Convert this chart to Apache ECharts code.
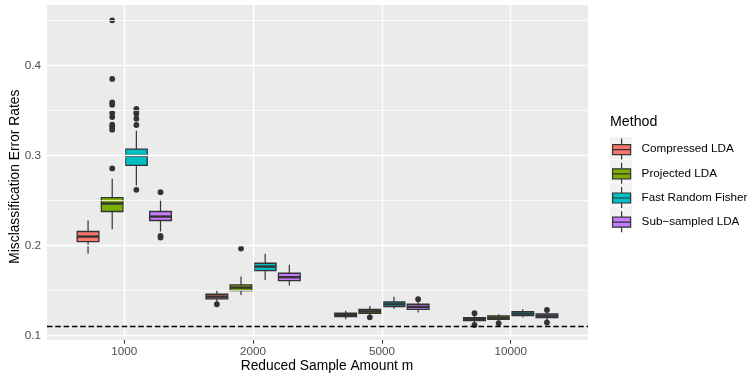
<!DOCTYPE html>
<html>
<head>
<meta charset="utf-8">
<script src="https://cdn.jsdelivr.net/npm/echarts@6/dist/echarts.min.js"></script>
<style>html,body{margin:0;padding:0;background:#fff;}#c{width:748px;height:377px;}</style>
</head>
<body>
<div id="c"></div>
<script>
// ---- data ----
const categories = ['1000', '2000', '5000', '10000'];
const methods = ['Compressed LDA', 'Projected LDA', 'Fast Random Fisher', 'Sub\u2212sampled LDA'];
// [lower whisker, Q1, median, Q3, upper whisker] per category
const compressedStats = [[0.1908,0.2044,0.2100,0.2156,0.2278],[0.1378,0.1408,0.1433,0.1460,0.1508],[0.1182,0.1211,0.1230,0.1249,0.1278],[0.1150,0.1167,0.1183,0.1200,0.1219]];
const projectedStats  = [[0.2182,0.2378,0.2467,0.2533,0.2741],[0.1452,0.1500,0.1533,0.1563,0.1656],[0.1227,0.1249,0.1270,0.1293,0.1330],[0.1167,0.1182,0.1200,0.1219,0.1238]];
const fisherStats     = [[0.2667,0.2889,0.2997,0.3071,0.3274],[0.1619,0.1722,0.1767,0.1804,0.1908],[0.1300,0.1322,0.1348,0.1374,0.1433],[0.1204,0.1222,0.1245,0.1267,0.1293]];
const subStats        = [[0.2156,0.2278,0.2322,0.2378,0.2508],[0.1556,0.1611,0.1649,0.1693,0.1786],[0.1256,0.1293,0.1320,0.1349,0.1374],[0.1167,0.1200,0.1222,0.1241,0.1267]];
const compressedOut = [[], [0.1349], [], [0.1249, 0.1119]];
const projectedOut  = [[0.2856,0.3286,0.3316,0.3341,0.3426,0.3471,0.3563,0.3589,0.3849,0.4500], [0.1967], [0.1204], [0.1138]];
const fisherOut     = [[0.2619,0.3338,0.3408,0.3463,0.3489,0.3516], [], [], []];
const subOut        = [[0.2593,0.2108,0.2089], [], [0.1404], [0.1286,0.1146]];
const baseline = 0.1138;
const yMajor = [0.1, 0.2, 0.3, 0.4];
const yMinor = [0.15, 0.25, 0.35, 0.45];
const colors = ['#F8766D', '#7CAE00', '#00BFC4', '#C77CFF'];

const allStats = [compressedStats, projectedStats, fisherStats, subStats];
const allOut = [compressedOut, projectedOut, fisherOut, subOut];

// dodge layout (ggplot width 0.75, 4 groups)
const DODGE = 0.75, N = 4, SLOT = DODGE / N, BOX_W = SLOT * 0.9;
const offsets = [0,1,2,3].map(i => -DODGE/2 + SLOT*(i+0.5));

function makeRender(si) {
  return function (params, api) {
    const x = api.value(0) + offsets[si];
    const lo = api.coord([x, api.value(1)]);
    const q1 = api.coord([x, api.value(2)]);
    const md = api.coord([x, api.value(3)]);
    const q3 = api.coord([x, api.value(4)]);
    const hi = api.coord([x, api.value(5)]);
    const hw = api.size([BOX_W, 0])[0] / 2;
    const cx = lo[0];
    const line = '#333333';
    const children = [
      {type:'line', shape:{x1:cx,y1:hi[1],x2:cx,y2:q3[1]}, style:{stroke:line, lineWidth:1.2}},
      {type:'line', shape:{x1:cx,y1:q1[1],x2:cx,y2:lo[1]}, style:{stroke:line, lineWidth:1.2}},
      {type:'rect', shape:{x:cx-hw,y:q3[1],width:hw*2,height:q1[1]-q3[1]}, style:{fill:colors[si], stroke:line, lineWidth:1.3}},
      {type:'line', shape:{x1:cx-hw,y1:md[1],x2:cx+hw,y2:md[1]}, style:{stroke:line, lineWidth:2.4}}
    ];
    const outs = allOut[si][params.dataIndex] || [];
    outs.forEach(v => {
      const p = api.coord([x, v]);
      children.push({type:'circle', shape:{cx:p[0], cy:p[1], r:2.9}, style:{fill:line}});
    });
    return {type:'group', children};
  };
}

const boxSeries = methods.map((name, si) => ({
  name,
  type: 'custom',
  z: 3,
  itemStyle: {color: colors[si]},
  renderItem: makeRender(si),
  encode: {x: 0, y: [1,2,3,4,5]},
  data: allStats[si].map((s, ci) => [ci].concat(s)),
  silent: true
}));

const gridLines = [];
yMinor.forEach(v => gridLines.push({yAxis: v, lineStyle:{color:'#ffffff', width:0.75, type:'solid'}}));
yMajor.forEach(v => gridLines.push({yAxis: v, lineStyle:{color:'#ffffff', width:1.4, type:'solid'}}));
categories.forEach((c, i) => gridLines.push({xAxis: i, lineStyle:{color:'#ffffff', width:1.4, type:'solid'}}));

const font = 'Liberation Sans, Arial, Helvetica, sans-serif';
const chart = echarts.init(document.getElementById('c'), null, {renderer: 'canvas'});
chart.setOption({
  animation: false,
  backgroundColor: '#ffffff',
  textStyle: {fontFamily: font},
  title: {
    text: 'Method', left: 610, top: 115, padding: 0,
    textStyle: {fontSize: 14.2, fontWeight: 'normal', color: '#000000', fontFamily: font}
  },
  legend: {
    orient: 'vertical', left: 612, top: 138, padding: 0,
    itemWidth: 18, itemHeight: 21, itemGap: 2,
    selectedMode: false,
    icon: 'path://M9,0 L9,6 M0,6 L18,6 L18,16 L0,16 Z M0,11 L18,11 M9,16 L9,21',
    itemStyle: {borderColor: '#333333', borderWidth: 1.2},
    textStyle: {fontSize: 11.7, color: '#000000', fontFamily: font, padding: [0,0,0,6]},
    data: methods
  },
  graphic: [0,1,2,3].map(i => ({
    type: 'rect', z: -1, silent: true,
    shape: {x: 610, y: 137 + i*23, width: 22, height: 22},
    style: {fill: '#F2F2F2'}
  })),
  grid: {left: 47, right: 160, top: 5, bottom: 37, show: true, backgroundColor: '#EBEBEB', borderWidth: 0,
         containLabel: false, outerBoundsMode: 'none'},
  xAxis: {
    type: 'value', min: -0.6, max: 3.6,
    name: 'Reduced Sample Amount m', nameLocation: 'middle', nameGap: 19, nameMoveOverlap: false,
    nameTextStyle: {fontSize: 13.8, color: '#000000', fontFamily: font, padding: [0,0,0,19]},
    axisLine: {show: false},
    axisTick: {show: true, customValues: [0,1,2,3], length: 3.7, lineStyle: {color: '#333333', width: 1.1}},
    axisLabel: {customValues: [0,1,2,3], formatter: v => categories[Math.round(v)], margin: 6, fontSize: 11.7, color: '#4D4D4D', fontFamily: font},
    splitLine: {show: false}
  },
  yAxis: {
    type: 'value', min: 0.0952, max: 0.467,
    name: 'Misclassification Error Rates', nameLocation: 'middle', nameGap: 25, nameMoveOverlap: false,
    nameTextStyle: {fontSize: 13.8, color: '#000000', fontFamily: font, padding: [0,8.4,0,0]},
    axisLine: {show: false},
    axisTick: {show: true, customValues: yMajor, length: 3.7, lineStyle: {color: '#333333', width: 1.1}},
    axisLabel: {customValues: yMajor, formatter: v => v.toFixed(1), margin: 6, fontSize: 11.7, color: '#4D4D4D', fontFamily: font},
    splitLine: {show: false}
  },
  series: [
    {
      type: 'line', data: [], z: 1, silent: true,
      markLine: {silent: true, symbol: 'none', label: {show: false}, animation: false, data: gridLines}
    },
    {
      type: 'line', data: [], z: 2, silent: true,
      markLine: {silent: true, symbol: 'none', label: {show: false}, animation: false,
        data: [{yAxis: baseline, lineStyle: {color: '#000000', width: 1.4, type: [5.5, 2.8]}}]}
    }
  ].concat(boxSeries)
});
</script>
</body>
</html>
